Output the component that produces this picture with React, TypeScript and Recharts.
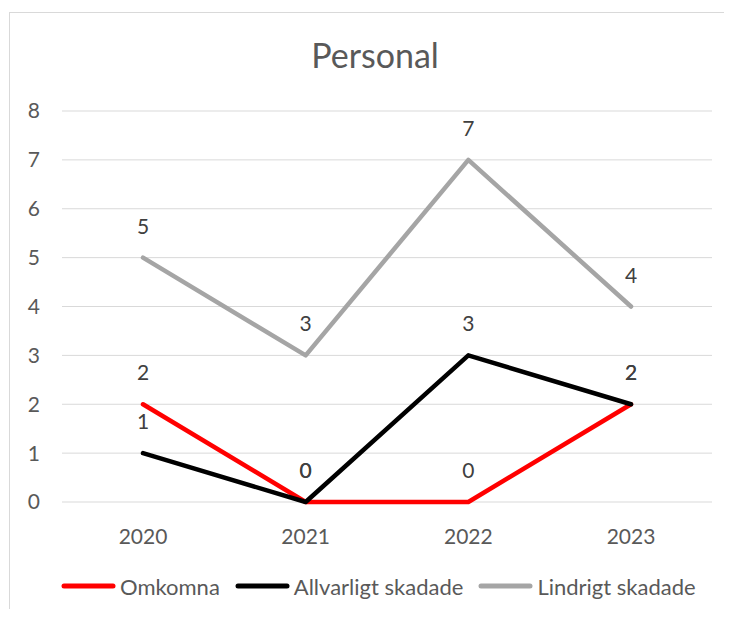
import React from 'react';
import { LineChart, Line, XAxis, YAxis, CartesianGrid, LabelList, Legend } from 'recharts';

const years = ['2020', '2021', '2022', '2023'];
const omkomna = [2, 0, 0, 2];
const allvarligt = [1, 0, 3, 2];
const lindrigt = [5, 3, 7, 4];
const yTicks = [0, 1, 2, 3, 4, 5, 6, 7, 8];
const seriesKeys = ['omkomna', 'allvarligt', 'lindrigt'];
const seriesNames = ['Omkomna', 'Allvarligt skadade', 'Lindrigt skadade'];
const seriesColors = ['#ff0000', '#000000', '#a5a5a5'];
const title = 'Personal';

const data = years.map((y, i) => ({
  year: y,
  omkomna: omkomna[i],
  allvarligt: allvarligt[i],
  lindrigt: lindrigt[i],
}));

const FONT = 'Lato, "Open Sans", sans-serif';

const renderLegend = () => (
  <div style={{ display: 'flex', alignItems: 'center', height: 30, fontFamily: FONT }}>
    {seriesNames.map((name, i) => (
      <div key={name} style={{ display: 'flex', alignItems: 'center', marginRight: 15 }}>
        <svg width={55} height={10} style={{ display: 'block' }}>
          <line x1={3} y1={5} x2={52} y2={5} stroke={seriesColors[i]} strokeWidth={5} strokeLinecap="round" />
        </svg>
        <span style={{ fontSize: 22, color: '#595959', marginLeft: 4, whiteSpace: 'nowrap' }}>{name}</span>
      </div>
    ))}
  </div>
);

export default function App() {
  return (
    <div style={{ position: 'relative', width: 716, height: 601, overflow: 'hidden', fontFamily: FONT, background: '#fff' }}>
      <div
        style={{
          position: 'absolute',
          left: 1,
          top: 4,
          width: 800,
          height: 800,
          borderTop: '1px solid #d9d9d9',
          borderLeft: '1px solid #d9d9d9',
          pointerEvents: 'none',
        }}
      />
      <div
        style={{
          position: 'absolute',
          left: 0,
          width: 734,
          top: 27,
          textAlign: 'center',
          fontSize: 34,
          color: '#595959',
          lineHeight: '40px',
        }}
      >
        {title}
      </div>
      <div style={{ position: 'absolute', left: 0, top: 0 }}>
        <LineChart width={716} height={601} data={data} margin={{ top: 103, right: 12, left: 0, bottom: 67 }}>
          <CartesianGrid vertical={false} stroke="#d9d9d9" strokeWidth={1} />
          <XAxis
            dataKey="year"
            axisLine={false}
            tickLine={false}
            tickSize={0}
            tickMargin={27}
            height={40}
            interval={0}
            padding={{ left: 81, right: 81 }}
            tick={{ fontSize: 21, fill: '#595959' }}
          />
          <YAxis
            domain={[0, 8]}
            ticks={yTicks}
            axisLine={false}
            tickLine={false}
            tickSize={0}
            tickMargin={22}
            width={54}
            interval={0}
            tick={{ fontSize: 21, fill: '#595959' }}
          />
          <Legend
            layout="vertical"
            align="center"
            verticalAlign="middle"
            content={renderLegend}
            wrapperStyle={{ position: 'absolute', left: 53, top: 563, width: 690, height: 30 }}
          />
          {seriesKeys.map((k, i) => (
            <Line
              key={k}
              type="linear"
              dataKey={k}
              name={seriesNames[i]}
              stroke={seriesColors[i]}
              strokeWidth={4.5}
              strokeLinecap="round"
              strokeLinejoin="round"
              dot={false}
              activeDot={false}
              isAnimationActive={false}
            >
              <LabelList dataKey={k} position="top" offset={24} fontSize={21} fill="#404040" />
            </Line>
          ))}
        </LineChart>
      </div>
    </div>
  );
}
